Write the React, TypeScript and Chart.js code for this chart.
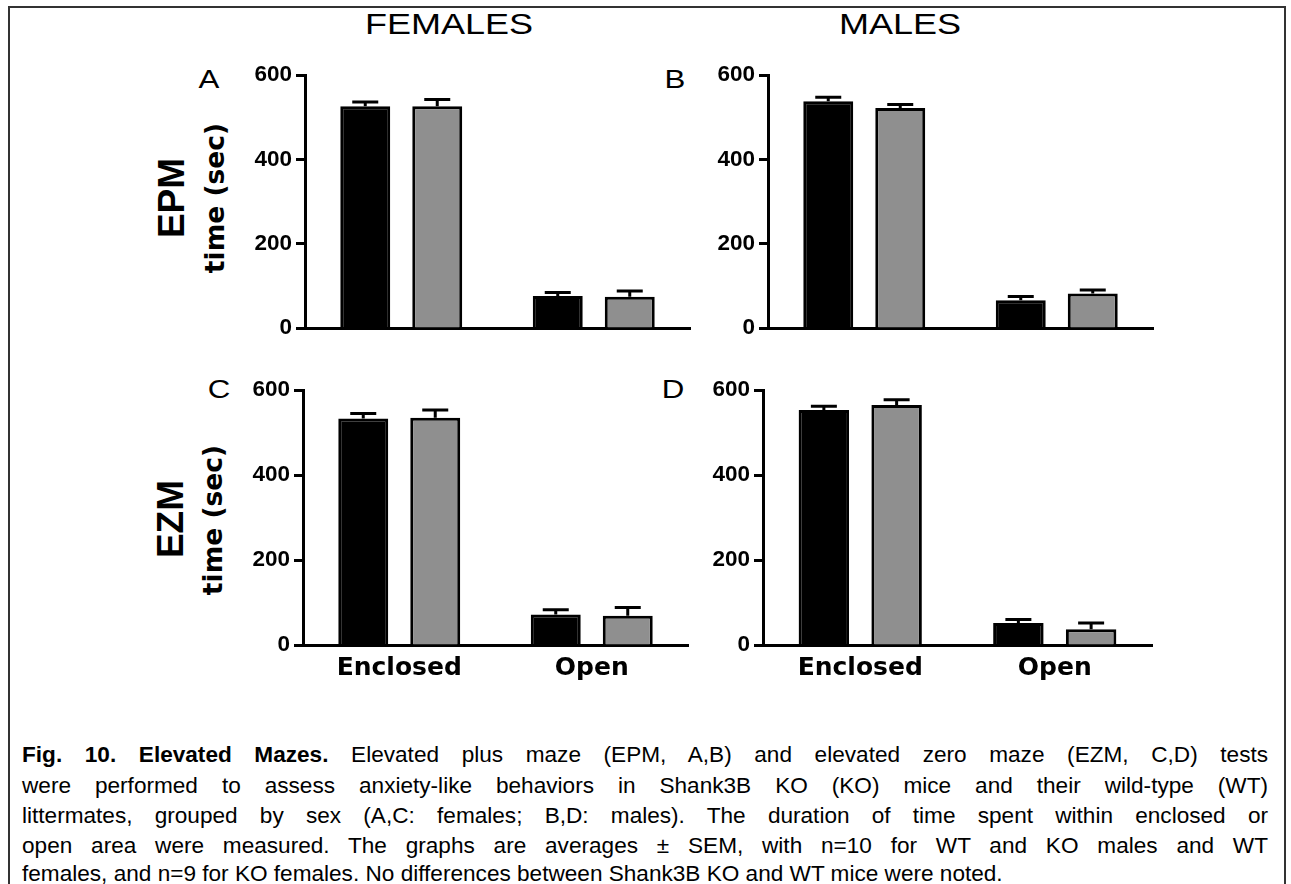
import React, { useEffect, useRef } from 'react';
import { Chart, registerables } from 'chart.js';

Chart.register(...registerables);

// ---------- data ----------
const categories = ['Enclosed', 'Open'];
const seriesNames = ['WT', 'KO'];
const yTickValues = [0, 200, 400, 600];

// EPM, females (A)
const epmFemaleWT = [526, 76];
const epmFemaleKO = [526, 74];
const epmFemaleWTsem = [10, 8];
const epmFemaleKOsem = [16, 14];
// EPM, males (B)
const epmMaleWT = [538, 66];
const epmMaleKO = [522, 82];
const epmMaleWTsem = [9, 9];
const epmMaleKOsem = [8, 8];
// EZM, females (C)
const ezmFemaleWT = [533, 72];
const ezmFemaleKO = [535, 69];
const ezmFemaleWTsem = [12, 11];
const ezmFemaleKOsem = [18, 19];
// EZM, males (D)
const ezmMaleWT = [553, 52];
const ezmMaleKO = [565, 37];
const ezmMaleWTsem = [9, 8];
const ezmMaleKOsem = [12, 15];

const captionLines = [
  'Elevated plus maze (EPM, A,B) and elevated zero maze (EZM, C,D) tests',
  'were performed to assess anxiety-like behaviors in Shank3B KO (KO) mice and their wild-type (WT)',
  'littermates, grouped by sex (A,C: females; B,D: males). The duration of time spent within enclosed or',
  'open area were measured. The graphs are averages \u00B1 SEM, with n=10 for WT and KO males and WT',
  'females, and n=9 for KO females. No differences between Shank3B KO and WT mice were noted.',
];

// ---------- plugin ----------
const errorBarPlugin = {
  id: 'errorBars',
  afterDatasetsDraw(chart: any) {
    const ctx = chart.ctx;
    const yScale = chart.scales.y;
    chart.data.datasets.forEach((ds: any, i: number) => {
      const meta = chart.getDatasetMeta(i);
      meta.data.forEach((bar: any, j: number) => {
        const v = ds.data[j];
        const e = ds.errors[j];
        const yTop = yScale.getPixelForValue(v + e);
        ctx.save();
        ctx.strokeStyle = '#000';
        ctx.lineWidth = 3;
        ctx.beginPath();
        ctx.moveTo(bar.x, bar.y);
        ctx.lineTo(bar.x, yTop);
        ctx.moveTo(bar.x - 13, yTop);
        ctx.lineTo(bar.x + 13, yTop);
        ctx.stroke();
        ctx.restore();
      });
    });
  },
};

const Y_W = 80;
const PAD_T = 22;
const PAD_R = 6;
const PAD_B = 18;

type PanelProps = {
  left: number; right: number; top: number; bottom: number;
  wt: number[]; ko: number[]; wtSem: number[]; koSem: number[];
  showX: boolean;
};

function Panel(p: PanelProps) {
  const ref = useRef<HTMLCanvasElement>(null);
  const xH = p.showX ? 44 : 4;
  const w = Y_W + (p.right - p.left) + PAD_R;
  const h = PAD_T + (p.bottom - p.top) + xH + PAD_B;

  useEffect(() => {
    if (!ref.current) return;
    const chart = new Chart(ref.current, {
      type: 'bar',
      data: {
        labels: categories,
        datasets: [
          {
            label: seriesNames[0], data: p.wt, errors: p.wtSem,
            backgroundColor: '#000000', borderColor: '#000000', borderWidth: 3,
            barPercentage: 0.694, categoryPercentage: 0.748,
          } as any,
          {
            label: seriesNames[1], data: p.ko, errors: p.koSem,
            backgroundColor: '#8f8f8f', borderColor: '#000000', borderWidth: 3,
            barPercentage: 0.694, categoryPercentage: 0.748,
          } as any,
        ],
      },
      options: {
        animation: false,
        responsive: false,
        devicePixelRatio: 1,
        layout: { padding: { top: PAD_T, right: PAD_R, bottom: PAD_B, left: 0 } },
        plugins: { legend: { display: false }, tooltip: { enabled: false }, title: { display: false } },
        scales: {
          x: {
            type: 'category',
            offset: true,
            grid: { display: false, drawTicks: false },
            border: { display: true, color: '#000', width: 3 },
            ticks: {
              display: p.showX,
              color: '#000',
              padding: 8,
              font: { family: 'DejaVu Sans', weight: 'bold', size: 25 },
            },
            afterFit: (axis: any) => { axis.height = xH; },
          },
          y: {
            min: 0, max: 600,
            afterBuildTicks: (axis: any) => { axis.ticks = yTickValues.map((v) => ({ value: v })); },
            grid: {
              display: true, drawOnChartArea: false, drawTicks: true,
              tickLength: 9, tickWidth: 3, tickColor: '#000',
            },
            border: { display: true, color: '#000', width: 3 },
            ticks: {
              color: '#000',
              padding: 4,
              font: { family: 'Liberation Sans', weight: 'bold', size: 22.5 },
            },
            afterFit: (axis: any) => { axis.width = Y_W; },
          },
        },
      } as any,
      plugins: [errorBarPlugin],
    });
    return () => chart.destroy();
  }, []);

  return (
    <canvas
      ref={ref}
      width={w}
      height={h}
      style={{ position: 'absolute', left: p.left - Y_W, top: p.top - PAD_T, width: w, height: h }}
    />
  );
}

const abs = (x: number, y: number): React.CSSProperties => ({
  position: 'absolute', left: x, top: y, transform: 'translate(-50%, -50%)', whiteSpace: 'nowrap', lineHeight: 1,
});

function Rot({ x, y, text, size, weight, family, sx = 1 }: any) {
  return (
    <div style={{ ...abs(x, y), transform: `translate(-50%, -50%) rotate(-90deg) scaleX(${sx})`, fontSize: size, fontWeight: weight, fontFamily: family, color: '#000' }}>
      {text}
    </div>
  );
}

function Lbl({ x, y, text, size, weight = 'normal', family = 'Liberation Sans', sx = 1 }: any) {
  return (
    <div style={{ ...abs(x, y), transform: `translate(-50%, -50%) scaleX(${sx})`, fontSize: size, fontWeight: weight, fontFamily: family, color: '#000' }}>
      {text}
    </div>
  );
}

export default function App() {
  const capTop = [740, 771, 801, 831, 859];
  return (
    <div style={{ position: 'absolute', left: 0, top: 0, width: 1291, height: 884, background: '#fff', overflow: 'hidden' }}>
      <div style={{ position: 'absolute', left: 8, top: 6, width: 1274, height: 900, border: '2px solid #333' }} />

      <Lbl x={449} y={24} text="FEMALES" size={30} sx={1.2} />
      <Lbl x={900} y={24} text="MALES" size={30} sx={1.2} />

      <Lbl x={209} y={79} text="A" size={25} sx={1.25} />
      <Lbl x={675} y={79} text="B" size={25} sx={1.25} />
      <Lbl x={219} y={389} text="C" size={25} sx={1.25} />
      <Lbl x={673} y={389} text="D" size={25} sx={1.25} />

      <Rot x={171} y={198} text="EPM" size={37} weight="bold" family="Liberation Sans" />
      <Rot x={215} y={198} text="time (sec)" size={26.5} weight="bold" family="DejaVu Sans" />
      <Rot x={170} y={519} text="EZM" size={37} weight="bold" family="Liberation Sans" />
      <Rot x={213} y={520} text="time (sec)" size={26.5} weight="bold" family="DejaVu Sans" />

      <Panel left={305} right={690} top={75} bottom={328} wt={epmFemaleWT} ko={epmFemaleKO} wtSem={epmFemaleWTsem} koSem={epmFemaleKOsem} showX={false} />
      <Panel left={768} right={1153} top={75} bottom={328} wt={epmMaleWT} ko={epmMaleKO} wtSem={epmMaleWTsem} koSem={epmMaleKOsem} showX={false} />
      <Panel left={303} right={688} top={390} bottom={645} wt={ezmFemaleWT} ko={ezmFemaleKO} wtSem={ezmFemaleWTsem} koSem={ezmFemaleKOsem} showX={true} />
      <Panel left={763} right={1152} top={390} bottom={645} wt={ezmMaleWT} ko={ezmMaleKO} wtSem={ezmMaleWTsem} koSem={ezmMaleKOsem} showX={true} />

      {captionLines.map((line, i) => (
        <div
          key={i}
          style={{
            position: 'absolute', left: 22, top: capTop[i], width: 1246, height: 30, lineHeight: '30px',
            fontFamily: 'Liberation Sans', fontSize: 22.6, color: '#000', whiteSpace: 'nowrap',
            textAlign: 'justify', textAlignLast: i < captionLines.length - 1 ? 'justify' : 'left',
          } as React.CSSProperties}
        >
          {i === 0 ? <b>Fig. 10. Elevated Mazes. </b> : null}
          {line}
        </div>
      ))}
    </div>
  );
}
